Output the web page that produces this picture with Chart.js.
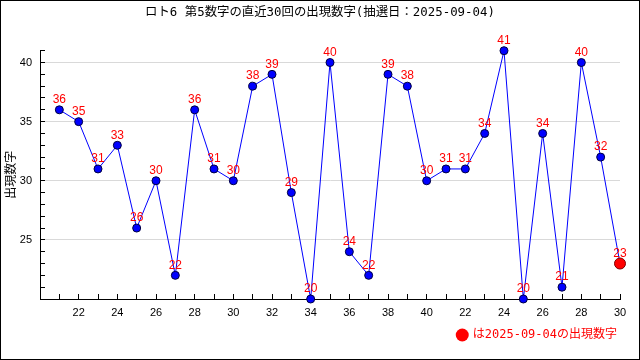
<!DOCTYPE html>
<html><head><meta charset="utf-8">
<script src="https://cdn.jsdelivr.net/npm/chart.js@4"></script>
<style>html,body{margin:0;padding:0;background:#fff}#wrap{width:640px;height:360px}</style>
</head><body><div id="wrap"><canvas id="c" width="640" height="360"></canvas></div>
<script>
const titleText = 'ロト6 第5数字の直近30回の出現数字(抽選日：2025-09-04)';
const yAxisTitle = '出現数字';
const legendText = 'は2025-09-04の出現数字';
const categories = ['21','22','23','24','25','26','27','28','29','30','31','32','33','34','35','36','37','38','39','40',
                    '21','22','23','24','25','26','27','28','29','30'];
const values = [36,35,31,33,26,30,22,36,31,30,38,39,29,20,40,24,22,39,38,30,31,31,34,41,20,34,21,40,32,23];
const yTickValues = [25,30,35,40];
const last = values.length - 1;
const monoCJK = '"DejaVu Sans Mono", "Noto Sans CJK JP", monospace';

const frame = {
  id: 'frame',
  beforeDraw(chart) {
    const c = chart.ctx; c.save(); c.fillStyle = '#fff'; c.fillRect(0,0,chart.width,chart.height); c.restore();
  },
  afterDraw(chart) {
    const c = chart.ctx; c.save(); c.strokeStyle = '#000'; c.lineWidth = 1;
    c.strokeRect(0.5,0.5,chart.width-1,chart.height-1);
    c.fillStyle = '#000'; c.font = '12.4px ' + monoCJK; c.textAlign = 'center'; c.textBaseline = 'middle';
    c.fillText(titleText, chart.width / 2, 12.5);
    c.restore();
  }
};
const valueLabels = {
  id: 'valueLabels',
  afterDatasetsDraw(chart) {
    const c = chart.ctx; const meta = chart.getDatasetMeta(0);
    c.save(); c.fillStyle = '#ff0000'; c.font = '12px "Liberation Sans", Arial, sans-serif';
    c.textAlign = 'center'; c.textBaseline = 'bottom';
    meta.data.forEach((pt, i) => { c.fillText(String(values[i]), pt.x, pt.y - 4); });
    c.restore();
  }
};

new Chart(document.getElementById('c'), {
  type: 'line',
  data: {
    datasets: [{
      data: values.map((v, i) => ({x: i, y: v})),
      borderColor: '#0000ff', borderWidth: 1, tension: 0, clip: false,
      pointBackgroundColor: ctx => ctx.dataIndex === last ? '#ff0000' : '#0000ff',
      pointBorderColor: ctx => ctx.dataIndex === last ? '#800000' : '#000040',
      pointBorderWidth: 1,
      pointRadius: ctx => ctx.dataIndex === last ? 5.5 : 4,
      pointHoverRadius: ctx => ctx.dataIndex === last ? 5.5 : 4
    }]
  },
  options: {
    responsive: false, animation: false, events: [],
    layout: { padding: { left: 0, right: 20, top: 50.7, bottom: 9 } },
    plugins: {
      tooltip: { enabled: false },
      title: { display: false },
      legend: {
        display: true, position: 'bottom', align: 'end',
        labels: {
          usePointStyle: true, boxWidth: 9, boxHeight: 9.2, padding: 3, color: '#ff0000',
          font: { size: 12, family: monoCJK },
          generateLabels: () => [{ text: legendText, fillStyle: '#ff0000', strokeStyle: '#ff0000',
            lineWidth: 0, pointStyle: 'circle', hidden: false, fontColor: '#ff0000', datasetIndex: 0 }]
        }
      }
    },
    scales: {
      x: {
        type: 'linear', min: -1, max: 29,
        afterFit: s => { s.height = 27; },
        border: { color: '#000', width: 1 },
        grid: { color: 'rgba(0,0,0,0)', tickColor: '#000', tickLength: -5, drawTicks: true },
        ticks: { stepSize: 1, autoSkip: false, maxRotation: 0, padding: 12, color: '#000',
          font: { size: 11, family: '"Liberation Sans", Arial, sans-serif' },
          callback: v => (Number.isInteger(v) && v >= 0 && v % 2 === 1) ? categories[v] : '' }
      },
      y: {
        min: 20, max: 41,
        afterFit: s => { s.width = 40; },
        border: { color: '#000', width: 1 },
        title: { display: true, text: yAxisTitle, color: '#000', padding: { top: 3, bottom: 0 },
          font: { size: 12, family: '"Noto Sans CJK JP", sans-serif' } },
        grid: { color: ctx => (ctx.tick && yTickValues.includes(ctx.tick.value)) ? '#d9d9d9' : 'rgba(0,0,0,0)',
          tickColor: '#000', tickLength: -5 },
        ticks: { stepSize: 1, autoSkip: false, padding: 13, color: '#000',
          font: { size: 11, family: '"Liberation Sans", Arial, sans-serif' },
          callback: v => yTickValues.includes(v) ? String(v) : '' }
      }
    }
  },
  plugins: [frame, valueLabels]
});
</script></body></html>
